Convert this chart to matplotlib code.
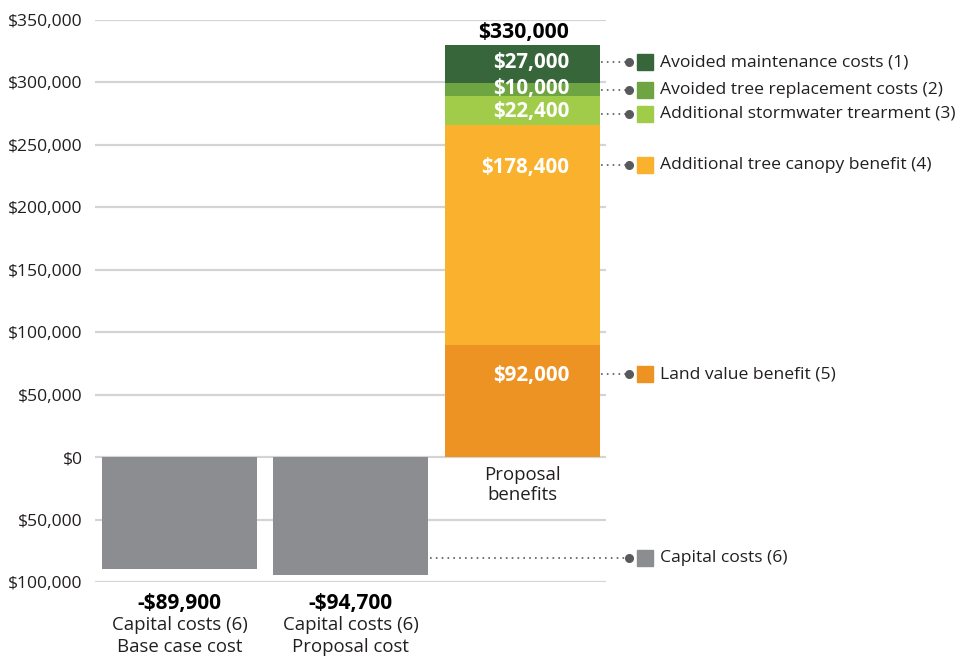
import matplotlib
matplotlib.use("Agg")
import matplotlib.pyplot as plt
from matplotlib.ticker import FuncFormatter

# ---------------- data ----------------
cost_categories = ["Base case cost", "Proposal cost"]
cost_values = [-89900, -94700]
cost_labels = ["-$89,900", "-$94,700"]

benefit_category = "Proposal\nbenefits"
benefit_names = [
    "Land value benefit (5)",
    "Additional tree canopy benefit (4)",
    "Additional stormwater trearment (3)",
    "Avoided tree replacement costs (2)",
    "Avoided maintenance costs (1)",
]
# segment heights as drawn in the picture
benefit_heights = [89700, 175900, 23800, 10400, 30400]
benefit_labels = ["$92,000", "$178,400", "$22,400", "$10,000", "$27,000"]
benefit_total_label = "$330,000"
cost_legend_name = "Capital costs (6)"

y_ticks = [-100000, -50000, 0, 50000, 100000, 150000, 200000, 250000, 300000, 350000]

# ---------------- style ----------------
benefit_colors = ["#ec9323", "#f9b12e", "#a0cc4a", "#6fa443", "#37663a"]
cost_color = "#8c8d91"
text_color = "#231f20"
grid_color = "#d4d4d4"
leader_color = "#58595b"
# y positions (data units) where labels / leaders sit
label_y = [65500, 231700, 276500, 295500, 315800]
leader_y = [66200, 233500, 275000, 294200, 316000]
cost_leader_y = -80800

plt.rcParams["font.family"] = ["Open Sans", "DejaVu Sans"]

fig = plt.figure(figsize=(9.56, 6.58), dpi=100)
ax = fig.add_axes([95 / 956, 1 - 582 / 658, 511 / 956, 562 / 658])

W = 0.906
ax.set_xlim(-0.494, 2.49)
ax.set_ylim(-100000, 350000)

# gridlines
for t in y_ticks:
    ax.axhline(t, color=grid_color, lw=1.6, zorder=0)

# cost bars
xs = [0, 1]
ax.bar(xs, cost_values, width=W, color=cost_color, zorder=2)

# stacked benefit bar
bottom = 0
for h, c in zip(benefit_heights, benefit_colors):
    ax.bar(2, h, width=W, bottom=bottom, color=c, zorder=2)
    bottom += h
total_top = bottom

# value labels inside bar
lx = 2.275
for y, lab in zip(label_y, benefit_labels):
    ax.text(lx, y, lab, ha="right", va="center", color="white",
            fontsize=14.8, fontweight="bold", zorder=3)
ax.text(lx, total_top + 1500, benefit_total_label, ha="right", va="bottom",
        color="black", fontsize=15.2, fontweight="bold")

# leaders + legend
right_edge = 2 + W / 2
dot_x = 2 + (628 - 521.5) / 171
sq_x = 2 + (644 - 521.5) / 171
txt_x = 2 + (659 - 521.5) / 171
for y, name, c in zip(leader_y, benefit_names, benefit_colors):
    ax.plot([right_edge + 0.01, dot_x], [y, y], ls=(0, (1, 2.5)), color=leader_color,
            lw=1.2, clip_on=False)
    ax.plot(dot_x, y, "o", ms=5.5, color=leader_color, clip_on=False)
    ax.plot(sq_x, y, "s", ms=11, color=c, clip_on=False)
    ax.text(txt_x, y, name, ha="left", va="center", fontsize=12.6, color=text_color)

ax.plot([1 + W / 2 + 0.01, dot_x], [cost_leader_y, cost_leader_y], ls=(0, (1, 2.5)),
        color=leader_color, lw=1.2, clip_on=False)
ax.plot(dot_x, cost_leader_y, "o", ms=5.5, color=leader_color, clip_on=False)
ax.plot(sq_x, cost_leader_y, "s", ms=11, color=cost_color, clip_on=False)
ax.text(txt_x, cost_leader_y, cost_legend_name, ha="left", va="center",
        fontsize=12.6, color=text_color)

# category labels
for x, cat, lab in zip(xs, cost_categories, cost_labels):
    ax.text(x, -117000, lab, ha="center", va="center", fontsize=15,
            fontweight="bold", color="black", clip_on=False)
    ax.text(x, -134800, cost_legend_name, ha="center", va="center", fontsize=13.4,
            color=text_color)
    ax.text(x, -151800, cat, ha="center", va="center", fontsize=13.4, color=text_color)
ax.text(2, -7000, benefit_category, ha="center", va="top", fontsize=13.4,
        color=text_color, linespacing=1.12)

# axes styling
ax.set_yticks(y_ticks)
ax.yaxis.set_major_formatter(FuncFormatter(lambda v, p: "${:,.0f}".format(abs(v))))
ax.tick_params(axis="y", length=0, pad=9, labelsize=12.6, labelcolor=text_color)
ax.set_xticks([])
for s in ax.spines.values():
    s.set_visible(False)

fig.savefig("out.png", dpi=100)
